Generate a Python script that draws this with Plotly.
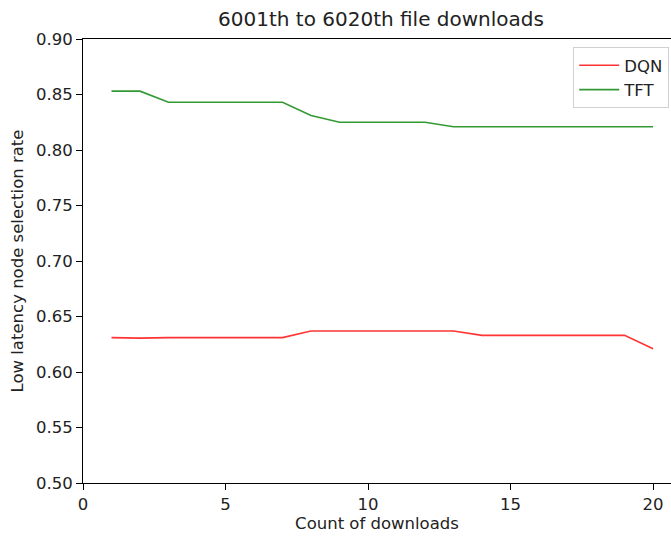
import plotly.graph_objects as go

downloads = list(range(1, 21))
dqn = [0.631, 0.6305, 0.631, 0.631, 0.631, 0.631, 0.631, 0.637, 0.637, 0.637,
       0.637, 0.637, 0.637, 0.633, 0.633, 0.633, 0.633, 0.633, 0.633, 0.621]
tft = [0.853, 0.853, 0.843, 0.843, 0.843, 0.843, 0.843, 0.831, 0.825, 0.825,
       0.825, 0.825, 0.821, 0.821, 0.821, 0.821, 0.821, 0.821, 0.821, 0.821]
x_ticks = [0, 5, 10, 15, 20]
y_ticks = [0.50, 0.55, 0.60, 0.65, 0.70, 0.75, 0.80, 0.85, 0.90]

font = "DejaVu Sans"
fs = 16.5
fig = go.Figure()
fig.add_trace(go.Scatter(x=downloads, y=dqn, mode="lines", name="DQN",
                         line=dict(color="rgba(255,0,0,0.8)", width=1.6)))
fig.add_trace(go.Scatter(x=downloads, y=tft, mode="lines", name="TFT",
                         line=dict(color="rgba(0,128,0,0.8)", width=1.6)))

fig.update_layout(
    width=671, height=536,
    margin=dict(l=83, r=0, t=39, b=53, autoexpand=False),
    paper_bgcolor="white", plot_bgcolor="white",
    font=dict(family=font, size=fs, color="#222222"),
    showlegend=True,
    legend=dict(x=0.997, y=0.982, xanchor="right", yanchor="top",
                bordercolor="#d0d0d0", borderwidth=1, bgcolor="rgba(255,255,255,0.8)",
                font=dict(family=font, size=fs), tracegroupgap=0, itemwidth=40),
    title=dict(text="6001th to 6020th file downloads", x=381/671, xanchor="center",
               y=1 - 19/536, yanchor="middle", font=dict(family=font, size=20)),
    xaxis=dict(range=[0, 20.63], tickvals=x_ticks, showgrid=False, zeroline=False,
               showline=True, linecolor="black", linewidth=1, mirror=True,
               ticks="outside", ticklen=6, tickcolor="black", automargin=False,
               title=dict(text="Count of downloads", standoff=4, font=dict(family=font, size=fs))),
    yaxis=dict(range=[0.5, 0.9], tickvals=y_ticks, tickformat=".2f", showgrid=False,
               zeroline=False, showline=True, linecolor="black", linewidth=1,
               ticks="outside", ticklen=6, tickcolor="black", automargin=False,
               title=dict(text="Low latency node selection rate", standoff=8,
                          font=dict(family=font, size=fs))),
)

fig.write_html("out.html")
